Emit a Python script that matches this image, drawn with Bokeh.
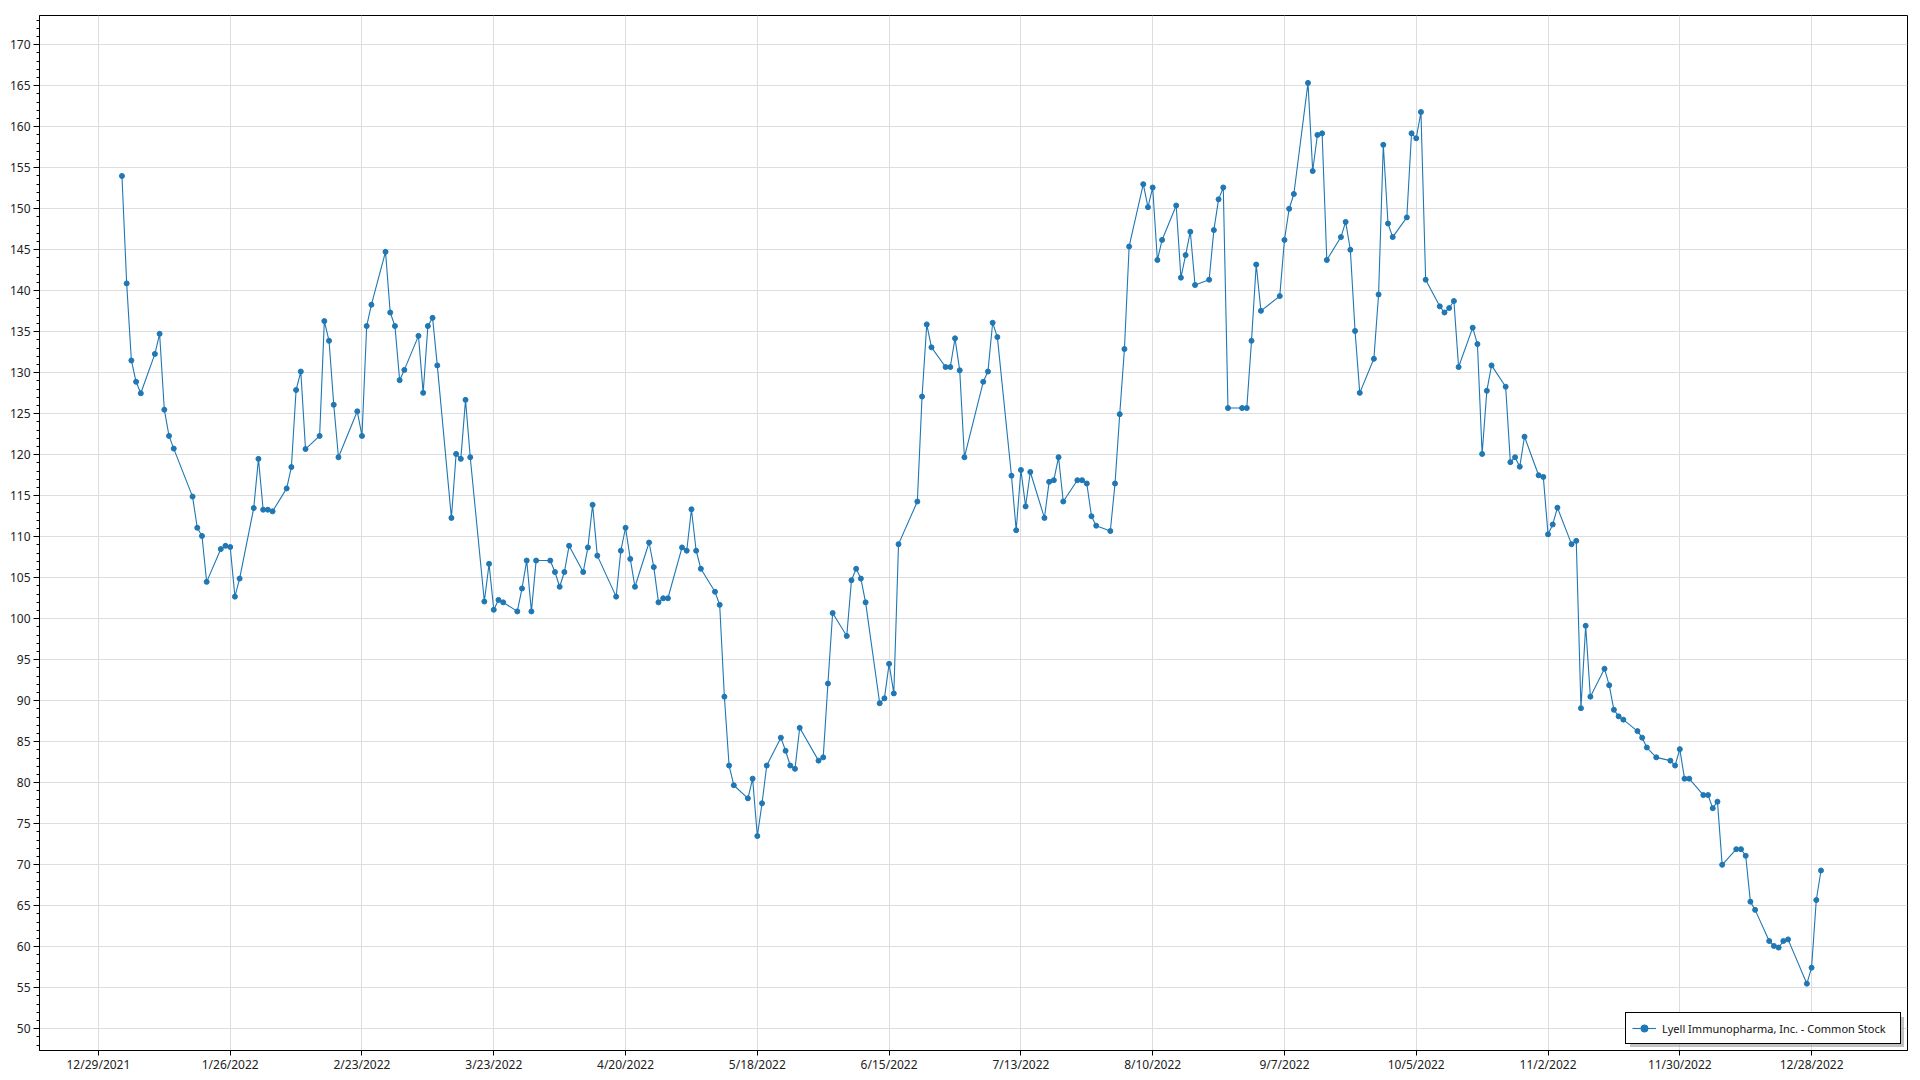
import pandas as pd
from bokeh.plotting import figure
from bokeh.models import FixedTicker, ColumnDataSource, Range1d, Legend, LegendItem
from bokeh.embed import file_html
from bokeh.resources import INLINE

series_name = "Lyell Immunopharma, Inc. - Common Stock"

dates = [
    "2022-01-03", "2022-01-04", "2022-01-05", "2022-01-06", "2022-01-07", "2022-01-10", "2022-01-11", "2022-01-12",
    "2022-01-13", "2022-01-14", "2022-01-18", "2022-01-19", "2022-01-20", "2022-01-21", "2022-01-24", "2022-01-25",
    "2022-01-26", "2022-01-27", "2022-01-28", "2022-01-31",
    "2022-02-01", "2022-02-02", "2022-02-03", "2022-02-04", "2022-02-07", "2022-02-08", "2022-02-09", "2022-02-10",
    "2022-02-11", "2022-02-14", "2022-02-15", "2022-02-16", "2022-02-17", "2022-02-18", "2022-02-22", "2022-02-23",
    "2022-02-24", "2022-02-25", "2022-02-28",
    "2022-03-01", "2022-03-02", "2022-03-03", "2022-03-04", "2022-03-07", "2022-03-08", "2022-03-09", "2022-03-10",
    "2022-03-11", "2022-03-14", "2022-03-15", "2022-03-16", "2022-03-17", "2022-03-18", "2022-03-21", "2022-03-22",
    "2022-03-23", "2022-03-24", "2022-03-25", "2022-03-28", "2022-03-29", "2022-03-30", "2022-03-31",
    "2022-04-01", "2022-04-04", "2022-04-05", "2022-04-06", "2022-04-07", "2022-04-08", "2022-04-11", "2022-04-12",
    "2022-04-13", "2022-04-14", "2022-04-18", "2022-04-19", "2022-04-20", "2022-04-21", "2022-04-22", "2022-04-25",
    "2022-04-26", "2022-04-27", "2022-04-28", "2022-04-29",
    "2022-05-02", "2022-05-03", "2022-05-04", "2022-05-05", "2022-05-06", "2022-05-09", "2022-05-10", "2022-05-11",
    "2022-05-12", "2022-05-13", "2022-05-16", "2022-05-17", "2022-05-18", "2022-05-19", "2022-05-20", "2022-05-23",
    "2022-05-24", "2022-05-25", "2022-05-26", "2022-05-27", "2022-05-31",
    "2022-06-01", "2022-06-02", "2022-06-03", "2022-06-06", "2022-06-07", "2022-06-08", "2022-06-09", "2022-06-10",
    "2022-06-13", "2022-06-14", "2022-06-15", "2022-06-16", "2022-06-17", "2022-06-21", "2022-06-22", "2022-06-23",
    "2022-06-24", "2022-06-27", "2022-06-28", "2022-06-29", "2022-06-30",
    "2022-07-01", "2022-07-05", "2022-07-06", "2022-07-07", "2022-07-08", "2022-07-11", "2022-07-12", "2022-07-13",
    "2022-07-14", "2022-07-15", "2022-07-18", "2022-07-19", "2022-07-20", "2022-07-21", "2022-07-22", "2022-07-25",
    "2022-07-26", "2022-07-27", "2022-07-28", "2022-07-29",
    "2022-08-01", "2022-08-02", "2022-08-03", "2022-08-04", "2022-08-05", "2022-08-08", "2022-08-09", "2022-08-10",
    "2022-08-11", "2022-08-12", "2022-08-15", "2022-08-16", "2022-08-17", "2022-08-18", "2022-08-19", "2022-08-22",
    "2022-08-23", "2022-08-24", "2022-08-25", "2022-08-26", "2022-08-29", "2022-08-30", "2022-08-31",
    "2022-09-01", "2022-09-02", "2022-09-06", "2022-09-07", "2022-09-08", "2022-09-09", "2022-09-12", "2022-09-13",
    "2022-09-14", "2022-09-15", "2022-09-16", "2022-09-19", "2022-09-20", "2022-09-21", "2022-09-22", "2022-09-23",
    "2022-09-26", "2022-09-27", "2022-09-28", "2022-09-29", "2022-09-30",
    "2022-10-03", "2022-10-04", "2022-10-05", "2022-10-06", "2022-10-07", "2022-10-10", "2022-10-11", "2022-10-12",
    "2022-10-13", "2022-10-14", "2022-10-17", "2022-10-18", "2022-10-19", "2022-10-20", "2022-10-21", "2022-10-24",
    "2022-10-25", "2022-10-26", "2022-10-27", "2022-10-28", "2022-10-31",
    "2022-11-01", "2022-11-02", "2022-11-03", "2022-11-04", "2022-11-07", "2022-11-08", "2022-11-09", "2022-11-10",
    "2022-11-11", "2022-11-14", "2022-11-15", "2022-11-16", "2022-11-17", "2022-11-18", "2022-11-21", "2022-11-22",
    "2022-11-23", "2022-11-25", "2022-11-28", "2022-11-29", "2022-11-30",
    "2022-12-01", "2022-12-02", "2022-12-05", "2022-12-06", "2022-12-07", "2022-12-08", "2022-12-09", "2022-12-12",
    "2022-12-13", "2022-12-14", "2022-12-15", "2022-12-16", "2022-12-19", "2022-12-20", "2022-12-21", "2022-12-22",
    "2022-12-23", "2022-12-27", "2022-12-28", "2022-12-29", "2022-12-30",
]

prices = [
    154.0, 140.9, 131.5, 128.9, 127.5, 132.3, 134.75, 125.5,
    122.3, 120.75, 114.9, 111.1, 110.1, 104.5, 108.5, 108.9,
    108.75, 102.7, 104.9, 113.5,
    119.5, 113.3, 113.3, 113.1, 115.9, 118.5, 127.9, 130.15,
    120.7, 122.3, 136.3, 133.9, 126.1, 119.7, 125.3, 122.3,
    135.7, 138.3, 144.75,
    137.35, 135.7, 129.1, 130.35, 134.5, 127.55, 135.7, 136.7,
    130.9, 112.3, 120.1, 119.5, 126.7, 119.7, 102.1, 106.7,
    101.1, 102.3, 102.0, 100.9, 103.7, 107.1, 100.9,
    107.1, 107.1, 105.7, 103.9, 105.7, 108.9, 105.7, 108.7,
    113.9, 107.7, 102.7, 108.3, 111.1, 107.3, 103.9, 109.3,
    106.3, 102.0, 102.5, 102.5,
    108.7, 108.3, 113.35, 108.3, 106.1, 103.3, 101.7, 90.5,
    82.1, 79.7, 78.1, 80.5, 73.5, 77.5, 82.1, 85.5,
    83.9, 82.1, 81.7, 86.7, 82.7,
    83.1, 92.1, 100.7, 97.9, 104.7, 106.1, 104.9, 102.0,
    89.7, 90.3, 94.5, 90.9, 109.1, 114.3, 127.1, 135.9,
    133.1, 130.7, 130.7, 134.2, 130.3,
    119.7, 128.9, 130.15, 136.1, 134.35, 117.45, 110.8, 118.15,
    113.7, 117.9, 112.3, 116.7, 116.9, 119.7, 114.3, 116.9,
    116.9, 116.5, 112.5, 111.35,
    110.7, 116.5, 124.95, 132.9, 145.4, 153.0, 150.2, 152.6,
    143.75, 146.2, 150.4, 141.6, 144.35, 147.2, 140.7, 141.35,
    147.4, 151.15, 152.6, 125.7, 125.7, 125.7, 133.9,
    143.2, 137.55, 139.35, 146.2, 150.0, 151.8, 165.35, 154.6,
    159.0, 159.2, 143.75, 146.55, 148.4, 145.0, 135.1, 127.55,
    131.7, 139.55, 157.8, 148.2, 146.55,
    148.95, 159.2, 158.6, 161.8, 141.35, 138.1, 137.35, 137.9,
    138.75, 130.7, 135.5, 133.5, 120.1, 127.8, 130.9, 128.3,
    119.1, 119.7, 118.55, 122.2, 117.5,
    117.3, 110.3, 111.5, 113.55, 109.1, 109.5, 89.1, 99.15,
    90.5, 93.9, 91.9, 88.9, 88.1, 87.7, 86.3, 85.5,
    84.3, 83.1, 82.7, 82.1, 84.1,
    80.5, 80.5, 78.5, 78.5, 76.9, 77.7, 70.0, 71.9,
    71.9, 71.1, 65.5, 64.5, 60.7, 60.1, 59.9, 60.7,
    60.9, 55.5, 57.45, 65.7, 69.3,
]

x_tick_labels = ["12/29/2021", "1/26/2022", "2/23/2022", "3/23/2022", "4/20/2022", "5/18/2022",
                 "6/15/2022", "7/13/2022", "8/10/2022", "9/7/2022", "10/5/2022", "11/2/2022",
                 "11/30/2022", "12/28/2022"]
y_major_ticks = [50, 55, 60, 65, 70, 75, 80, 85, 90, 95, 100, 105, 110, 115, 120, 125,
                 130, 135, 140, 145, 150, 155, 160, 165, 170]
y_minor_ticks = list(range(47, 174))

FONT = "Noto Sans"
BLUE = "#1f77b4"
GRID = "#dddddd"
TEXT = "#222222"

xs = pd.to_datetime(dates)
src = ColumnDataSource(data=dict(x=xs, y=prices))

tick_ts = pd.to_datetime(x_tick_labels, format="%m/%d/%Y")
tick_ms = [int(t.value // 10**6) for t in tick_ts]
overrides = {ms: lab for ms, lab in zip(tick_ms, x_tick_labels)}

x0 = tick_ts[0] - pd.Timedelta(days=12.52)
x1 = tick_ts[0] + pd.Timedelta(days=384.38)

p = figure(width=1920, height=1080, x_axis_type="datetime", output_backend="svg",
           toolbar_location=None,
           x_range=Range1d(x0, x1), y_range=Range1d(47.35, 173.57),
           min_border_left=39, min_border_top=15, min_border_right=13, min_border_bottom=30)
p.background_fill_color = "white"
p.border_fill_color = "white"
p.outline_line_color = "black"
p.outline_line_width = 1
p.outline_line_alpha = 1.0

xa = p.xaxis[0]
xa.ticker = FixedTicker(ticks=tick_ms, minor_ticks=[])
xa.major_label_overrides = overrides
xa.major_tick_out = 5
xa.major_tick_in = 0
xa.minor_tick_out = 0
xa.minor_tick_in = 0
xa.major_label_standoff = 0
xa.axis_line_color = "black"
xa.major_tick_line_color = "black"
xa.major_label_text_font = FONT
xa.major_label_text_font_size = "12px"
xa.major_label_text_color = TEXT

ya = p.yaxis[0]
ya.ticker = FixedTicker(ticks=y_major_ticks, minor_ticks=y_minor_ticks)
ya.major_tick_out = 6
ya.major_tick_in = 0
ya.minor_tick_out = 3
ya.minor_tick_in = 0
ya.major_label_standoff = 3
ya.axis_line_color = "black"
ya.major_tick_line_color = "black"
ya.minor_tick_line_color = "black"
ya.major_label_text_font = FONT
ya.major_label_text_font_size = "12px"
ya.major_label_text_color = TEXT

p.xgrid.grid_line_color = GRID
p.ygrid.grid_line_color = GRID
p.xgrid.grid_line_width = 1
p.ygrid.grid_line_width = 1

r_line = p.line("x", "y", source=src, line_color=BLUE, line_width=1.1)
r_pts = p.scatter("x", "y", source=src, size=5, fill_color=BLUE, line_color=BLUE)

# shadow box for the legend (drawn first, offset right/down)
dummy = p.line(x=[], y=[], line_alpha=0)
shadow = Legend(items=[LegendItem(label=" ", renderers=[dummy])],
                location="bottom_right", margin=3, padding=6, spacing=0,
                label_height=18, glyph_height=18, glyph_width=24, label_standoff=6,
                label_width=232, label_text_font=FONT, label_text_font_size="11px",
                label_text_alpha=0, background_fill_color="#9a9a9a", background_fill_alpha=0.6,
                border_line_alpha=0)
p.add_layout(shadow)

legend = Legend(items=[LegendItem(label=series_name, renderers=[r_line, r_pts])],
                location="bottom_right", margin=6, padding=6, spacing=0,
                label_height=18, glyph_height=18, glyph_width=24, label_standoff=6,
                label_width=232, label_text_font=FONT, label_text_font_size="11px",
                label_text_color="#111111",
                background_fill_color="white", background_fill_alpha=1.0,
                border_line_color="black", border_line_width=1, border_line_alpha=1.0)
p.add_layout(legend)

open("out.html", "w").write(file_html(p, INLINE))
